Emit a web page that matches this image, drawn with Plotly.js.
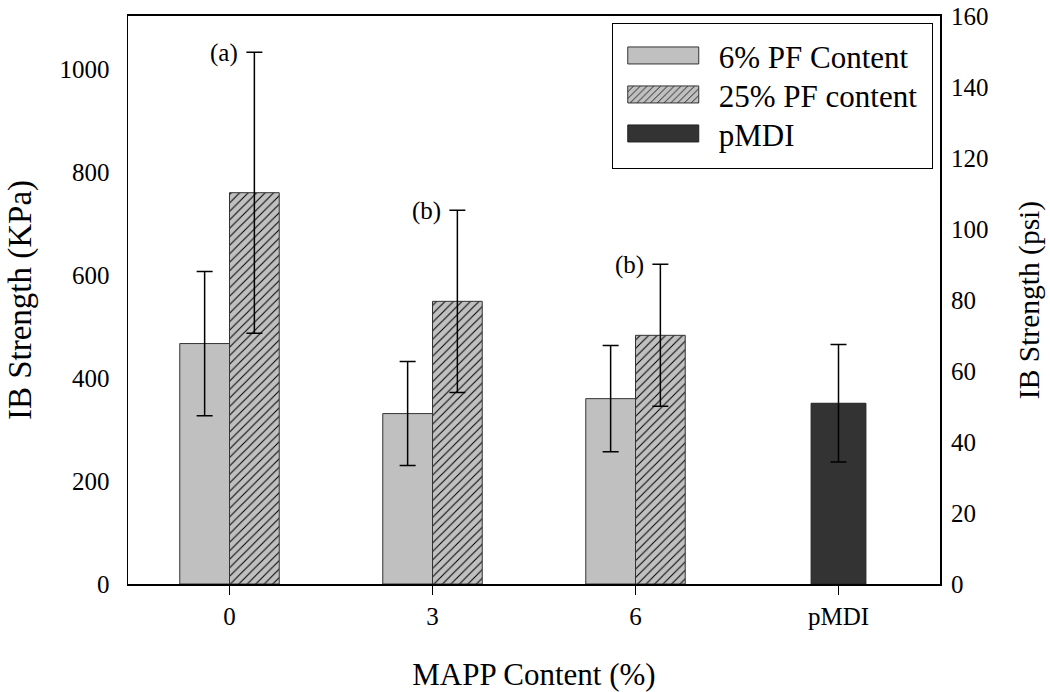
<!DOCTYPE html>
<html>
<head>
<meta charset="utf-8">
<script src="https://cdn.plot.ly/plotly-3.0.1.min.js"></script>
<style>
  html, body { margin: 0; padding: 0; background: #fff; }
  #chart { width: 1050px; height: 692px; }
</style>
</head>
<body>
<div id="chart"></div>
<script>
// ---- data ----
const categories = ['0', '3', '6', 'pMDI'];
const pf6Cats = ['0', '3', '6'];
const pf6Values = [467, 331, 360];
const pf6Errors = [140, 101, 103];
const pf25Cats = ['0', '3', '6'];
const pf25Values = [760, 549, 483];
const pf25Errors = [273, 177, 138];
const pmdiCats = ['pMDI'];
const pmdiValues = [351];
const pmdiErrors = [114];
const groupLabels = ['(a)', '(b)', '(b)'];
const seriesNames = ['6% PF Content', '25% PF content', 'pMDI'];
const psiMax = 160;
const kpaPerPsi = 6.895;
const psiTicks = [0, 20, 40, 60, 80, 100, 120, 140, 160];
const kpaTicks = [0, 200, 400, 600, 800, 1000];

const FONT = "'Liberation Serif', serif";
const barW = 0.245;

const errStyle = (arr) => ({type: 'data', array: arr, visible: true, color: '#000', thickness: 1.5, width: 8});

const traces = [
  {
    type: 'bar', name: seriesNames[0], x: pf6Cats, y: pf6Values,
    offset: -barW, width: barW,
    marker: {color: '#c0c0c0', line: {color: '#333', width: 1}},
    error_y: errStyle(pf6Errors)
  },
  {
    type: 'bar', name: seriesNames[1], x: pf25Cats, y: pf25Values,
    offset: 0, width: barW,
    marker: {color: '#c0c0c0', line: {color: '#333', width: 1},
      pattern: {shape: '/', size: 6, solidity: 0.17, fgcolor: '#000', bgcolor: '#c0c0c0', fillmode: 'replace'}},
    error_y: errStyle(pf25Errors)
  },
  {
    type: 'bar', name: seriesNames[2], x: pmdiCats, y: pmdiValues,
    offset: -0.135, width: 0.27,
    marker: {color: '#333333', line: {color: '#222', width: 1}},
    error_y: errStyle(pmdiErrors)
  }
];

const annotations = pf25Cats.map((c, i) => ({
  x: categories.indexOf(c) + barW / 2,
  y: pf25Values[i] + pf25Errors[i],
  xref: 'x', yref: 'y',
  text: groupLabels[i], showarrow: false,
  xanchor: 'right', yanchor: 'middle', xshift: -14, yshift: -1,
  font: {family: FONT, size: 25, color: '#000'}
}));

const layout = {
  width: 1050, height: 692,
  margin: {l: 128, r: 110, t: 16, b: 108},
  paper_bgcolor: '#fff', plot_bgcolor: '#fff',
  font: {family: FONT, size: 25, color: '#000'},
  barmode: 'overlay',
  showlegend: true,
  legend: {
    x: 0.980, xanchor: 'right', y: 0.988, yanchor: 'top',
    bordercolor: '#000', borderwidth: 1, bgcolor: '#fff',
    font: {family: FONT, size: 31, color: '#000'},
    itemwidth: 96, tracegroupgap: 0, traceorder: 'normal'
  },
  xaxis: {
    type: 'category', categoryorder: 'array', categoryarray: categories,
    range: [-0.5, 3.5],
    showline: true, linecolor: '#000', linewidth: 2, mirror: true,
    ticks: 'outside', ticklen: 9, tickwidth: 1.5, tickcolor: '#000',
    showgrid: false, zeroline: false,
    tickfont: {family: FONT, size: 25},
    title: {text: 'MAPP Content (%)', font: {family: FONT, size: 31}, standoff: 35}
  },
  yaxis: {
    range: [0, psiMax * kpaPerPsi],
    tickvals: kpaTicks, ticktext: kpaTicks.map(String),
    showline: true, linecolor: '#000', linewidth: 1.5, mirror: true,
    ticks: '', showgrid: false, zeroline: false,
    tickfont: {family: FONT, size: 25},
    ticklabelstandoff: 12,
    title: {text: 'IB Strength (KPa)', font: {family: FONT, size: 33}, standoff: 18}
  },
  yaxis2: {
    overlaying: 'y', side: 'right',
    range: [0, psiMax],
    tickvals: psiTicks, ticktext: psiTicks.map(String),
    showline: false, ticks: '', showgrid: false, zeroline: false,
    tickfont: {family: FONT, size: 25},
    ticklabelstandoff: 10,
    title: {text: 'IB Strength (psi)', font: {family: FONT, size: 29.5}, standoff: 30}
  },
  annotations: annotations
};

// invisible helper so the right axis is attached to data
traces.push({type: 'scatter', x: [categories[0]], y: [0], yaxis: 'y2', mode: 'markers',
  marker: {opacity: 0}, showlegend: false, hoverinfo: 'skip'});

Plotly.newPlot('chart', traces, layout, {staticPlot: true, displayModeBar: false}).then(() => {
  const leg = document.querySelector('#chart .legend');
  if (!leg) return;
  // widen the legend swatches to match the reference's long rectangles
  leg.querySelectorAll('.legendpoints path').forEach(p => {
    p.setAttribute('d', 'M-38,8.5H33V-8.5H-38Z');
  });
  // tighten entry spacing and add box padding like the reference legend
  const items = leg.querySelectorAll('g.traces');
  const parseY = (el) => {
    const m = /translate\(\s*([-\d.]+)[ ,]+([-\d.]+)/.exec(el.getAttribute('transform') || '');
    return m ? [parseFloat(m[1]), parseFloat(m[2])] : [0, 0];
  };
  const spacing = 39, topPad = 5, bottomPad = 35, extraW = 9;
  let y0 = null, lastY = 0;
  items.forEach((it, i) => {
    const [x, y] = parseY(it);
    if (y0 === null) y0 = y;
    lastY = y0 + topPad + i * spacing;
    it.setAttribute('transform', `translate(${x},${lastY})`);
  });
  const bg = leg.querySelector('rect.bg');
  if (bg) {
    const by = parseFloat(bg.getAttribute('y') || '0');
    bg.setAttribute('height', lastY + bottomPad - by);
    bg.setAttribute('width', parseFloat(bg.getAttribute('width')) + extraW);
  }
  leg.querySelectorAll('clipPath rect, rect.scrollbox').forEach(r => {
    r.setAttribute('height', lastY + bottomPad + 10);
    r.setAttribute('width', parseFloat(r.getAttribute('width') || '0') + extraW);
  });
});
</script>
</body>
</html>
